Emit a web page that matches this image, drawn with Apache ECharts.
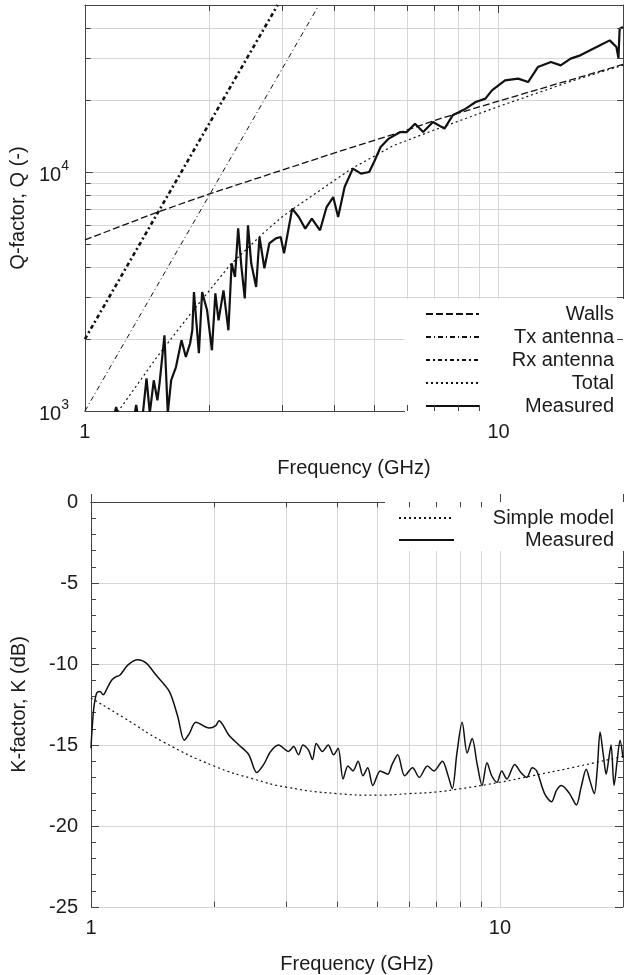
<!DOCTYPE html>
<html>
<head>
<meta charset="utf-8">
<script src="https://cdn.jsdelivr.net/npm/echarts@6/dist/echarts.min.js"></script>
<style>html,body{margin:0;padding:0;background:#fff}#c{width:626px;height:975px}</style>
</head>
<body>
<div id="c"></div>
<script>
// ---------- data ----------
// Top plot: Q-factor vs frequency (GHz)
const walls = [[1,5200],[1.5,6800],[2,8100],[2.7,9600],[4,12000],[5.8,14700],[7.2,16700],[10,19800],[20,28200]];
const txAntenna = [[1,1000],[3.68,50000]];
const rxAntenna = [[1,2000],[2.924,50000]];
const total = [[1.2,990],[1.5,1700],[1.8,2550],[2.24,4070],[2.69,5520],[3.0,6500],[3.22,7100],[4.4,10300],[5.57,12900],[7,15000],[10,18800],[15,24000],[20,28000]];
const measuredQ = [
 [1.18,980],[1.19,1040],[1.2,980],[1.32,980],[1.33,1060],[1.34,980],
 [1.381,980],[1.409,1370],[1.435,980],[1.467,1344],[1.497,1109],[1.515,1306],[1.557,2074],[1.586,980],
 [1.616,1344],[1.660,1528],[1.712,1976],[1.754,1683],[1.796,1920],[1.818,2177],[1.835,3148],[1.886,1744],
 [1.920,3148],[1.974,2638],[2.028,1795],[2.067,3109],[2.104,2396],[2.163,3199],[2.223,2177],[2.263,4150],
 [2.306,3637],[2.347,5813],[2.390,4005],[2.435,2961],[2.479,5984],[2.524,4150],[2.594,3302],[2.643,5346],
 [2.716,3955],[2.792,5031],[2.894,5280],[2.974,5346],[3.030,4571],[3.171,7028],[3.289,6481],[3.410,5797],
 [3.537,6383],[3.702,5703],[3.840,7137],[3.984,7859],[4.095,6481],[4.245,8654],[4.444,10330],[4.651,9847],
 [4.867,10000],[5.001,11010],[5.188,12720],[5.429,13800],[5.788,14700],[6.004,14700],[6.282,15940],[6.574,14700],
 [6.944,16190],[7.403,15190],[7.746,17270],[8.035,17820],[8.335,18420],[8.805,19630],[9.299,20290],[9.641,21970],
 [10.37,24190],[11.16,24590],[11.79,23800],[12.45,27500],[13.39,28860],[14.14,27950],[14.94,29820],[15.77,30780],
 [16.66,32300],[17.60,33900],[18.58,35560],[19.28,33340],[19.5,30000],[19.63,39810],[20,40430]
];
// Bottom plot: K-factor (dB) vs frequency (GHz)
const simpleModel = [[1,-12.1],[1.2,-13.3],[1.5,-14.8],[2,-16.3],[2.5,-17.1],[3,-17.6],[4,-18.0],[5,-18.1],[6,-18.0],[7,-17.9],[8,-17.7],[10,-17.3],[12,-16.9],[15,-16.4],[20,-15.7]];
const measuredK = [
 [1.0,-15.2],[1.004,-14.4],[1.015,-12.8],[1.032,-11.8],[1.052,-11.7],[1.071,-11.9],[1.095,-11.5],[1.123,-11.0],
 [1.15,-10.8],[1.176,-10.7],[1.232,-10.05],[1.302,-9.74],[1.365,-9.95],[1.444,-10.7],[1.555,-11.7],[1.628,-13.2],
 [1.691,-14.7],[1.739,-14.3],[1.805,-13.6],[1.945,-13.95],[2.019,-13.8],[2.056,-13.5],[2.175,-14.4],[2.30,-15.0],
 [2.432,-15.6],[2.543,-16.7],[2.645,-16.2],[2.75,-15.4],[2.875,-15.0],[3.041,-15.4],[3.13,-15.1],[3.216,-15.6],
 [3.30,-15.0],[3.401,-15.3],[3.48,-15.9],[3.556,-14.9],[3.68,-15.4],[3.803,-15.0],[3.92,-15.6],[4.021,-15.2],
 [4.135,-17.1],[4.25,-16.3],[4.373,-16.6],[4.50,-16.0],[4.624,-16.9],[4.75,-16.4],[4.890,-17.5],[5.1,-16.6],
 [5.318,-16.8],[5.45,-16.2],[5.623,-15.6],[5.85,-16.9],[6.115,-16.4],[6.35,-17.0],[6.650,-16.3],[6.9,-16.6],
 [7.232,-16.0],[7.45,-16.8],[7.647,-17.7],[7.85,-15.5],[8.086,-13.6],[8.316,-15.5],[8.551,-14.6],[8.8,-16.2],
 [9.043,-17.5],[9.298,-16.1],[9.55,-16.9],[9.833,-17.3],[10.1,-16.6],[10.40,-17.1],[10.87,-16.2],[11.25,-16.7],
 [11.63,-17.0],[12.0,-16.4],[12.30,-16.6],[12.86,-18.0],[13.37,-18.5],[13.75,-17.8],[14.14,-17.5],[14.8,-18.0],
 [15.38,-18.7],[15.8,-17.6],[16.26,-16.5],[16.6,-17.2],[17.01,-18.0],[17.3,-16.5],[17.58,-14.2],[17.9,-15.6],
 [18.19,-16.8],[18.45,-15.9],[18.70,-15.0],[19.02,-17.5],[19.35,-16.0],[19.67,-14.7],[20,-15.8]
];
// axis ranges / ticks
const fRange = [1, 20];
const qRange = [1000, 50000];
const kRange = [-25, 0];
const kStep = 5;
const fMinor = [2,3,4,5,6,7,8,9];
const qMinor = [2000,3000,4000,5000,6000,7000,8000,9000,20000,30000,40000];
const topLegendNames = ['Walls','Tx antenna','Rx antenna','Total','Measured'];
const bottomLegendNames = ['Simple model','Measured '];

// ---------- styling ----------
const FONT = '"Liberation Sans", Arial, Helvetica, sans-serif';
const TXT = '#1a1a1a';
const AX = '#444';
const GRID = '#d6d6d6';
const INK = '#111';

function isPow10(v){ const e = Math.log10(v); return Math.abs(e - Math.round(e)) < 1e-6; }

function xAxisCfg(gi, pos, withLabels) {
  return {
    type: 'log', logBase: 10, gridIndex: gi, position: pos, min: fRange[0], max: fRange[1],
    axisLine: {show: true, lineStyle: {color: AX, width: 1}},
    axisTick: {show: true, inside: true, length: 8, lineStyle: {color: AX}},
    minorTick: {show: false},
    splitLine: {show: withLabels, lineStyle: {color: GRID, width: 1}},
    axisLabel: withLabels ? {show: true, margin: 11, fontSize: 20, fontFamily: FONT, color: TXT,
      formatter: v => isPow10(v) ? String(Math.round(v)) : ''} : {show: false},
    name: withLabels ? 'Frequency (GHz)' : '', nameLocation: 'middle', nameGap: 47,
    nameTextStyle: {fontSize: 20, fontFamily: FONT, color: TXT}
  };
}

function tickSegs(list) {
  return list.map(s => [{coord: s[0]}, {coord: s[1]}]);
}
const markBase = {symbol: ['none','none'], silent: true, animation: false, label: {show: false}, emphasis: {disabled: true}};

// minor ticks (top plot, log y)
const topTicks = [];
fMinor.forEach(f => { topTicks.push([[f, qRange[0]], [f, qRange[0]*1.06]]); topTicks.push([[f, qRange[1]], [f, qRange[1]/1.06]]); });
qMinor.forEach(q => { topTicks.push([[fRange[0], q], [fRange[0]*1.033, q]]); topTicks.push([[fRange[1], q], [fRange[1]/1.033, q]]); });
// minor ticks (bottom plot)
const botTicks = [];
fMinor.forEach(f => { botTicks.push([[f, kRange[0]], [f, kRange[0]+0.33]]); botTicks.push([[f, kRange[1]], [f, kRange[1]-0.33]]); });

const legendCommon = {
  orient: 'vertical', backgroundColor: '#fff', selectedMode: false, itemHeight: 14,
  itemStyle: {opacity: 0, borderWidth: 0}
};

const chart = echarts.init(document.getElementById('c'), null, {renderer: 'canvas'});
chart.setOption({
  animation: false,
  backgroundColor: '#fff',
  grid: [
    {left: 79, top: 5, width: 547, height: 406},
    {left: 91, top: 502, width: 535, height: 406}
  ],
  xAxis: [
    xAxisCfg(0, 'bottom', true),
    xAxisCfg(0, 'top', false),
    xAxisCfg(1, 'bottom', true),
    xAxisCfg(1, 'top', false)
  ],
  yAxis: [
    {type: 'log', logBase: 10, gridIndex: 0, position: 'left', min: qRange[0], max: qRange[1],
     axisLine: {show: true, lineStyle: {color: AX}},
     axisTick: {show: true, inside: true, length: 8, lineStyle: {color: AX}},
     splitLine: {show: true, lineStyle: {color: GRID}},
     axisLabel: {margin: 16, color: TXT, fontFamily: FONT,
       formatter: v => isPow10(v) ? '{b|10}{s|' + Math.round(Math.log10(v)) + '}' : '',
       rich: {b: {fontSize: 20, lineHeight: 26, verticalAlign: 'bottom', fontFamily: FONT, color: TXT},
              s: {fontSize: 14, lineHeight: 14, verticalAlign: 'top', fontFamily: FONT, color: TXT}}},
     name: 'Q-factor, Q (-)', nameLocation: 'middle', nameGap: 52,
     nameTextStyle: {fontSize: 20, fontFamily: FONT, color: TXT}},
    {type: 'log', logBase: 10, gridIndex: 0, position: 'right', min: qRange[0], max: qRange[1],
     axisLine: {show: true, lineStyle: {color: AX}},
     axisTick: {show: true, inside: true, length: 8, lineStyle: {color: AX}},
     splitLine: {show: false}, axisLabel: {show: false}},
    {type: 'value', gridIndex: 1, position: 'left', min: kRange[0], max: kRange[1], interval: kStep,
     axisLine: {show: true, lineStyle: {color: AX}},
     axisTick: {show: true, inside: true, length: 8, lineStyle: {color: AX}},
     minorTick: {show: true, splitNumber: 5, length: 5, lineStyle: {color: AX}},
     splitLine: {show: true, lineStyle: {color: GRID}},
     axisLabel: {margin: 13, fontSize: 20, fontFamily: FONT, color: TXT},
     name: 'K-factor, K (dB)', nameLocation: 'middle', nameGap: 62,
     nameTextStyle: {fontSize: 20, fontFamily: FONT, color: TXT}},
    {type: 'value', gridIndex: 1, position: 'right', min: kRange[0], max: kRange[1], interval: kStep,
     axisLine: {show: true, lineStyle: {color: AX}},
     axisTick: {show: true, inside: true, length: 8, lineStyle: {color: AX}},
     minorTick: {show: true, splitNumber: 5, length: 5, lineStyle: {color: AX}},
     splitLine: {show: false}, axisLabel: {show: false}}
  ],
  legend: [
    Object.assign({}, legendCommon, {data: topLegendNames, left: 405, top: 299, padding: [5, 13, 1, 20],
     itemGap: 3, itemWidth: 53,
     formatter: n => '{a|' + n + '}',
     textStyle: {rich: {a: {width: 130, align: 'right', fontSize: 20, height: 18, lineHeight: 18, fontFamily: FONT, color: TXT}}}}),
    Object.assign({}, legendCommon, {data: bottomLegendNames, left: 385, top: 502, padding: [6, 13, 1, 13],
     itemGap: 2, itemWidth: 55,
     formatter: n => '{a|' + n.trim() + '}',
     textStyle: {rich: {a: {width: 155, align: 'right', fontSize: 20, height: 18, lineHeight: 18, fontFamily: FONT, color: TXT}}}})
  ],
  series: [
    {name: 'Walls', type: 'line', xAxisIndex: 0, yAxisIndex: 0, data: walls, symbol: 'none', smooth: false,
     lineStyle: {color: INK, width: 1.3, type: [7, 3]}, itemStyle: {color: INK},
     markLine: Object.assign({}, markBase, {z: 1, lineStyle: {color: GRID, width: 1, type: 'solid'},
       data: fMinor.map(v => ({xAxis: v})).concat(qMinor.map(v => ({yAxis: v})))})},
    {name: 'Tx antenna', type: 'line', xAxisIndex: 0, yAxisIndex: 0, data: txAntenna, symbol: 'none',
     lineStyle: {color: INK, width: 1, type: [5, 3, 1, 3]}, itemStyle: {color: INK}},
    {name: 'Rx antenna', type: 'line', xAxisIndex: 0, yAxisIndex: 0, data: rxAntenna, symbol: 'none',
     lineStyle: {color: INK, width: 2.6, type: [4, 3, 2, 3]}, itemStyle: {color: INK}},
    {name: 'Total', type: 'line', xAxisIndex: 0, yAxisIndex: 0, data: total, symbol: 'none',
     lineStyle: {color: INK, width: 1.2, type: [2, 3]}, itemStyle: {color: INK},
     markLine: Object.assign({}, markBase, {z: 5, lineStyle: {color: AX, width: 1, type: 'solid'}, data: tickSegs(topTicks)})},
    {name: 'Measured', type: 'line', xAxisIndex: 0, yAxisIndex: 0, data: measuredQ, symbol: 'none',
     lineStyle: {color: INK, width: 2.2}, itemStyle: {color: INK}},
    {name: 'Simple model', type: 'line', xAxisIndex: 2, yAxisIndex: 2, data: simpleModel, symbol: 'none', smooth: true,
     lineStyle: {color: INK, width: 1.2, type: [2, 3]}, itemStyle: {color: INK},
     markLine: Object.assign({}, markBase, {z: 1, lineStyle: {color: GRID, width: 1, type: 'solid'},
       data: fMinor.map(v => ({xAxis: v}))})},
    {name: 'Measured ', type: 'line', xAxisIndex: 2, yAxisIndex: 2, data: measuredK, symbol: 'none', smooth: 0.3,
     lineStyle: {color: INK, width: 1.5}, itemStyle: {color: INK},
     markLine: Object.assign({}, markBase, {z: 5, lineStyle: {color: AX, width: 1, type: 'solid'}, data: tickSegs(botTicks)})}
  ]
});
</script>
</body>
</html>
